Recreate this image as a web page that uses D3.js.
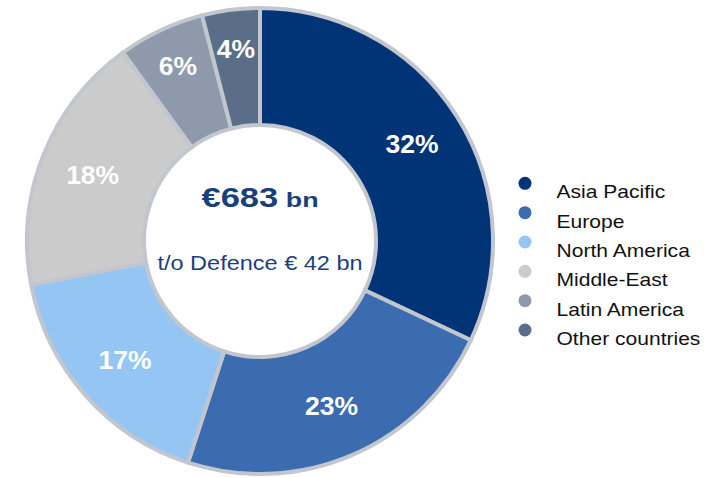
<!DOCTYPE html>
<html>
<head>
<meta charset="utf-8">
<script src="https://cdn.jsdelivr.net/npm/d3@7"></script>
<style>
  html, body { margin: 0; padding: 0; background: #ffffff; }
  svg { display: block; font-family: Arial, "Liberation Sans", sans-serif; }
</style>
</head>
<body>
<svg id="chart" width="715" height="478"></svg>
<script>
const categories = ["Asia Pacific", "Europe", "North America", "Middle-East", "Latin America", "Other countries"];
const shares = [32, 23, 17, 18, 6, 4];
const sliceLabels = ["32%", "23%", "17%", "18%", "6%", "4%"];
const colors = ["#013476", "#3b6cb0", "#95c5f2", "#cbcbcb", "#8e9aab", "#5b6e89"];
const centerTitle = "€683";
const centerTitleUnit = " bn";
const centerSub = "t/o Defence € 42 bn";

const svg = d3.select("#chart");
const cx = 260, cy = 241;
const outerR = 233, innerR = 116;
const strokeCol = "#c2c6ce";

const pie = d3.pie().sort(null).value(d => d.v);
const data = pie(categories.map((c, i) => ({ c, v: shares[i], lbl: sliceLabels[i], col: colors[i] })));
const arc = d3.arc().innerRadius(innerR).outerRadius(outerR);
const bigLabelArc = d3.arc().innerRadius(180).outerRadius(180);
const smallLabelArc = d3.arc().innerRadius(193).outerRadius(193);

const g = svg.append("g").attr("transform", `translate(${cx},${cy})`);

g.selectAll("path.slice")
  .data(data)
  .join("path")
  .attr("class", "slice")
  .attr("d", arc)
  .attr("fill", d => d.data.col)
  .attr("stroke", strokeCol)
  .attr("stroke-width", 4)
  .attr("stroke-linejoin", "miter");

g.selectAll("text.pct")
  .data(data)
  .join("text")
  .attr("class", "pct")
  .attr("transform", d => {
    const la = d.data.v < 10 ? smallLabelArc : bigLabelArc;
    const [x, y] = la.centroid(d);
    return `translate(${x},${y}) scale(1.06,1)`;
  })
  .attr("text-anchor", "middle")
  .attr("dy", "0.35em")
  .attr("fill", "#ffffff")
  .attr("font-weight", "bold")
  .attr("font-size", 25)
  .text(d => d.data.lbl);

// Center texts
const title = g.append("text")
  .attr("transform", "translate(0,-34) scale(1.28,1)")
  .attr("text-anchor", "middle")
  .attr("fill", "#1a3f7d")
  .attr("font-weight", "bold");
title.append("tspan").attr("font-size", 27).text(centerTitle);
title.append("tspan").attr("font-size", 21).text(centerTitleUnit);

g.append("text")
  .attr("transform", "translate(0,29) scale(1.12,1)")
  .attr("text-anchor", "middle")
  .attr("fill", "#1a3f7d")
  .attr("font-size", 21)
  .text(centerSub);

// Legend
const legY = d3.scalePoint().domain(categories).range([183.3, 330]);
const leg = svg.append("g");
const items = leg.selectAll("g.item")
  .data(categories)
  .join("g")
  .attr("class", "item");

items.append("circle")
  .attr("cx", 525)
  .attr("cy", d => legY(d))
  .attr("r", 6.5)
  .attr("fill", (d, i) => colors[i]);

items.append("text")
  .attr("transform", d => `translate(556.5,${legY(d) + 15}) scale(1.17,1)`)
  .attr("fill", "#111111")
  .attr("font-size", 18)
  .text(d => d);
</script>
</body>
</html>
